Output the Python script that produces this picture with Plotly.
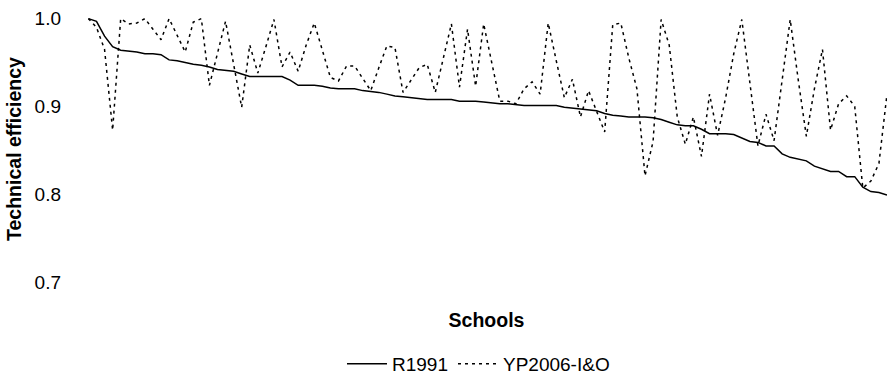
import plotly.graph_objects as go

schools = list(range(1, 101))

r1991 = [
    1.000, 0.997, 0.980, 0.968, 0.964, 0.963, 0.962, 0.960, 0.960, 0.959,
    0.953, 0.952, 0.950, 0.948, 0.947, 0.945, 0.942, 0.941, 0.940, 0.937,
    0.934, 0.934, 0.934, 0.934, 0.934, 0.930, 0.924, 0.924, 0.924, 0.923,
    0.921, 0.920, 0.920, 0.920, 0.918, 0.917, 0.916, 0.914, 0.912, 0.911,
    0.910, 0.909, 0.908, 0.908, 0.908, 0.908, 0.906, 0.906, 0.906, 0.905,
    0.904, 0.903, 0.903, 0.902, 0.901, 0.901, 0.901, 0.901, 0.901, 0.899,
    0.898, 0.897, 0.896, 0.895, 0.892, 0.890, 0.889, 0.888, 0.888, 0.888,
    0.887, 0.885, 0.882, 0.879, 0.878, 0.878, 0.874, 0.869, 0.869, 0.869,
    0.868, 0.864, 0.860, 0.859, 0.855, 0.855, 0.846, 0.842, 0.840, 0.838,
    0.832, 0.829, 0.826, 0.826, 0.820, 0.820, 0.808, 0.803, 0.802, 0.799,
]

yp2006 = [
    1.000, 0.990, 0.965, 0.873, 1.000, 0.994, 0.995, 1.000, 0.988, 0.976,
    1.000, 0.980, 0.962, 0.996, 1.000, 0.924, 0.960, 0.997, 0.948, 0.899,
    0.970, 0.938, 0.968, 0.999, 0.945, 0.962, 0.940, 0.970, 0.995, 0.963,
    0.933, 0.929, 0.946, 0.946, 0.932, 0.918, 0.944, 0.969, 0.967, 0.916,
    0.930, 0.944, 0.948, 0.916, 0.955, 0.994, 0.922, 0.988, 0.923, 0.994,
    0.950, 0.906, 0.906, 0.903, 0.920, 0.928, 0.914, 0.995, 0.952, 0.910,
    0.931, 0.888, 0.918, 0.895, 0.871, 0.993, 0.995, 0.955, 0.920, 0.821,
    0.860, 0.999, 0.970, 0.888, 0.857, 0.888, 0.843, 0.914, 0.867, 0.910,
    0.960, 0.999, 0.930, 0.855, 0.891, 0.861, 0.930, 0.999, 0.930, 0.866,
    0.920, 0.965, 0.873, 0.903, 0.912, 0.900, 0.807, 0.815, 0.835, 0.914,
]

y_ticks = [0.7, 0.8, 0.9, 1.0]
y_ticktext = ["0.7", "0.8", "0.9", "1.0"]

FONT = "Liberation Sans, Arial, sans-serif"

fig = go.Figure()
fig.add_trace(go.Scatter(
    x=schools, y=r1991, mode="lines", name="R1991",
    line=dict(color="#000000", width=1.5),
))
fig.add_trace(go.Scatter(
    x=schools, y=yp2006, mode="lines", name="YP2006-I&O",
    line=dict(color="#000000", width=1.5, dash="3px,4px"),
))

fig.update_layout(
    width=887, height=383,
    margin=dict(l=85.6, r=0, t=16.3, b=98),
    paper_bgcolor="white", plot_bgcolor="white",
    font=dict(family=FONT, size=19, color="#000000"),
    showlegend=True,
    legend=dict(
        orientation="h", x=0.49, xanchor="center", y=-0.31, yanchor="middle",
        font=dict(size=19), itemwidth=40,
    ),
    xaxis=dict(
        range=[0.7, 100.0], showticklabels=False, showgrid=False,
        zeroline=False, showline=False, ticks="",
        title=dict(text="<b>Schools</b>", standoff=31, font=dict(size=19.5)),
    ),
    yaxis=dict(
        range=[0.7, 1.003], tickvals=y_ticks, ticktext=y_ticktext,
        showgrid=False, zeroline=False, showline=False, ticks="",
        ticklabelstandoff=24,
        title=dict(text="<b>Technical efficiency</b>", standoff=7, font=dict(size=19.5)),
    ),
)

fig.write_html("out.html")
